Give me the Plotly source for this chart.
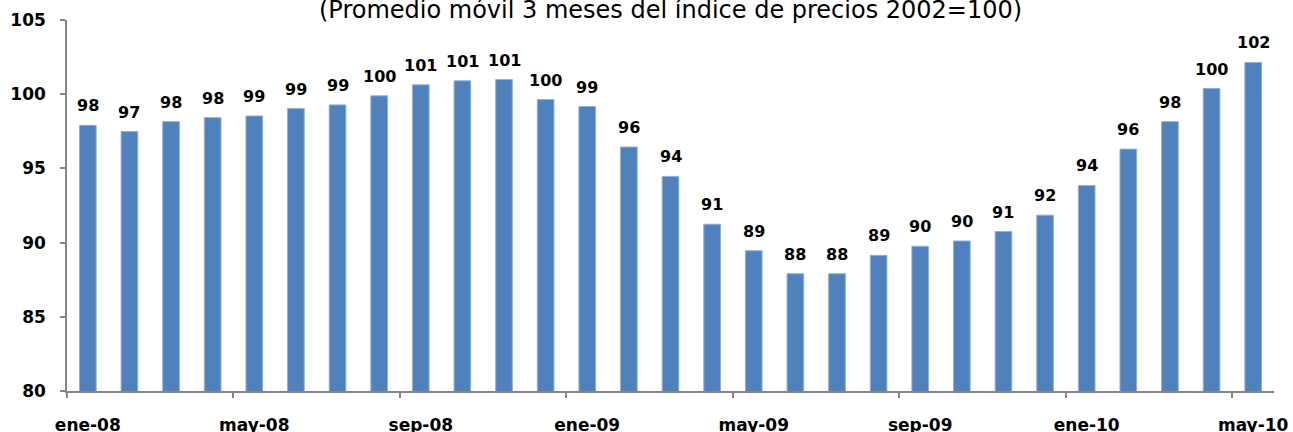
import plotly.graph_objects as go

# Months (ene-08 .. may-10) and 3-month moving average of price index (2002=100)
months = [
    "ene-08", "feb-08", "mar-08", "abr-08", "may-08", "jun-08", "jul-08", "ago-08",
    "sep-08", "oct-08", "nov-08", "dic-08", "ene-09", "feb-09", "mar-09", "abr-09",
    "may-09", "jun-09", "jul-09", "ago-09", "sep-09", "oct-09", "nov-09", "dic-09",
    "ene-10", "feb-10", "mar-10", "abr-10", "may-10",
]
index_values = [
    97.90, 97.48, 98.15, 98.42, 98.53, 99.03, 99.28, 99.89,
    100.63, 100.90, 100.99, 99.64, 99.17, 96.44, 94.46, 91.24,
    89.45, 87.90, 87.90, 89.14, 89.75, 90.11, 90.74, 91.85,
    93.85, 96.30, 98.15, 100.38, 102.14,
]
label_months = months[::4]
title_text = "(Promedio móvil 3 meses del índice de precios 2002=100)"

BAR_COLOR = "#4F81BD"
AXIS_COLOR = "#868686"
FONT = "DejaVu Sans"

fig = go.Figure()

fig.add_trace(go.Bar(
    x=months,
    y=index_values,
    marker=dict(color=BAR_COLOR, line=dict(color="#8DB0DC", width=1)),
    showlegend=False,
))

# value labels above bars
for m, v in zip(months, index_values):
    fig.add_annotation(
        x=m, y=v, text=f"{round(v):d}",
        xref="x", yref="y", yanchor="bottom", showarrow=False,
        yshift=8,
        font=dict(family=FONT, size=16, color="black", weight="bold"),
    )

# title, partially clipped at top like the source image
fig.add_annotation(
    x=0.5, y=1.026, xref="paper", yref="paper",
    text=title_text, showarrow=False, yanchor="middle",
    font=dict(family=FONT, size=24, color="black"),
)

fig.update_layout(
    width=1293,
    height=432,
    margin=dict(l=67, r=19, t=20, b=41, autoexpand=False),
    plot_bgcolor="white",
    paper_bgcolor="white",
    bargap=0.6,
    xaxis=dict(
        type="category",
        tickmode="array",
        tickvals=label_months,
        ticktext=label_months,
        ticks="",
        showline=True,
        linecolor=AXIS_COLOR,
        linewidth=1.5,
        showgrid=False,
        automargin=False,
        ticklabelstandoff=18,
        tickfont=dict(family=FONT, size=17, color="black", weight="bold"),
    ),
    xaxis2=dict(
        overlaying="x",
        anchor="y",
        side="bottom",
        range=[-0.5, len(months) - 0.5],
        tickmode="array",
        tickvals=[i - 0.5 for i in range(0, len(months), 4)],
        ticks="outside",
        ticklen=6,
        tickcolor=AXIS_COLOR,
        tickwidth=1.5,
        showticklabels=False,
        showgrid=False,
        showline=False,
        zeroline=False,
        automargin=False,
    ),
    yaxis=dict(
        range=[80, 105],
        tickmode="linear",
        tick0=80,
        dtick=5,
        ticks="outside",
        ticklen=5,
        tickcolor=AXIS_COLOR,
        tickwidth=1.5,
        showline=True,
        linecolor=AXIS_COLOR,
        linewidth=1.5,
        showgrid=False,
        zeroline=False,
        automargin=False,
        ticklabelstandoff=11,
        tickfont=dict(family=FONT, size=17, color="black", weight="bold"),
    ),
)

# invisible trace so xaxis2 is drawn
fig.add_trace(go.Scatter(x=[-0.5], y=[80], xaxis="x2", mode="markers",
                         marker=dict(opacity=0), showlegend=False, hoverinfo="skip"))

# drop the default page margin so the figure sits at the window's corner
fig.write_html("out.html", config={"displayModeBar": False},
               post_script="document.body.style.margin='0';")
